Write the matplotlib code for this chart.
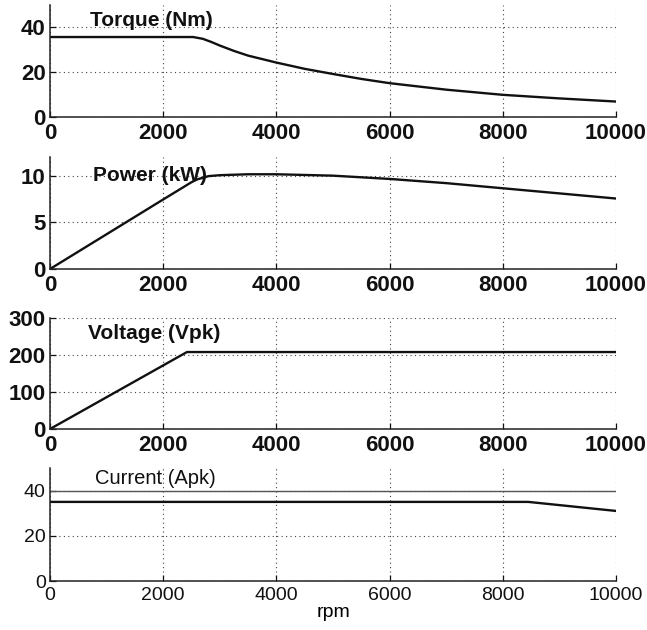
import matplotlib
matplotlib.use("Agg")
import matplotlib.pyplot as plt

# ---- data ----
rpm_torque = [0, 2530, 2700, 2850, 3000, 3250, 3500, 4000, 4500, 5000, 5500, 6000, 7000, 8000, 9000, 10000]
torque = [35.7, 35.7, 34.9, 33.5, 31.9, 29.5, 27.4, 24.3, 21.5, 19.2, 17.0, 15.1, 12.2, 9.9, 8.3, 6.9]

rpm_power = [0, 2000, 2500, 2600, 2800, 3000, 3500, 4000, 5000, 6000, 7000, 8000, 9000, 10000]
power = [0, 7.45, 9.3, 9.6, 9.95, 10.05, 10.15, 10.15, 10.0, 9.65, 9.2, 8.65, 8.1, 7.55]

rpm_voltage = [0, 2420, 10000]
voltage = [0, 208, 208]

rpm_current = [0, 8450, 10000]
current = [35, 35, 31]
current_limit = [40, 40]
rpm_limit = [0, 10000]

xticks = [0, 2000, 4000, 6000, 8000, 10000]
panels = [
    dict(x=rpm_torque, y=torque, ylim=(0, 50), yticks=[0, 20, 40],
         label="Torque (Nm)", lx=700, ly=43, bold=True),
    dict(x=rpm_power, y=power, ylim=(0, 12), yticks=[0, 5, 10],
         label="Power (kW)", lx=760, ly=10, bold=True),
    dict(x=rpm_voltage, y=voltage, ylim=(0, 300), yticks=[0, 100, 200, 300],
         label="Voltage (Vpk)", lx=670, ly=259, bold=True),
    dict(x=rpm_current, y=current, ylim=(0, 50), yticks=[0, 20, 40],
         label="Current (Apk)", lx=790, ly=45.5, bold=False),
]

W, H = 647, 630
fig = plt.figure(figsize=(W / 100, H / 100), dpi=100)
plt.rcParams['font.family'] = ['Liberation Sans', 'DejaVu Sans']

tops = [5, 157, 318, 468]
bots = [117, 269, 429, 581]
left, right = 50, 616

for i, p in enumerate(panels):
    ax = fig.add_axes([left / W, 1 - bots[i] / H, (right - left) / W, (bots[i] - tops[i]) / H])
    weight = 'bold' if p['bold'] else 'normal'
    tsize = 16 if p['bold'] else 14
    ax.plot(p['x'], p['y'], color='#111111', lw=1.7, solid_joinstyle='round')
    if i == 3:
        ax.plot(rpm_limit, current_limit, color='#555555', lw=1.0)
    ax.set_xlim(0, 10000)
    ax.set_ylim(*p['ylim'])
    ax.set_xticks(xticks)
    ax.set_yticks(p['yticks'])
    ax.set_xticklabels([str(t) for t in xticks], fontweight=weight, fontsize=tsize)
    ax.set_yticklabels([str(t) for t in p['yticks']], fontweight=weight, fontsize=tsize)
    ax.grid(True, linestyle=(0, (1, 3)), color='#444444', lw=0.8)
    ax.tick_params(direction='in', length=4, width=0.9, colors='#111111')
    ax.tick_params(axis='x', pad=4.5)
    ax.tick_params(axis='y', pad=3)
    ax.spines['top'].set_visible(False)
    ax.spines['right'].set_visible(False)
    for s in ('left', 'bottom'):
        ax.spines[s].set_linewidth(1.1)
        ax.spines[s].set_color('#222222')
    ax.text(p['lx'], p['ly'], p['label'], fontsize=15 if p['bold'] else 14.5,
            fontweight=weight, ha='left', va='center', color='#111111')
    if i == 3:
        ax.set_xlabel('rpm', fontsize=14, labelpad=0)

fig.savefig('out.png', dpi=100)
